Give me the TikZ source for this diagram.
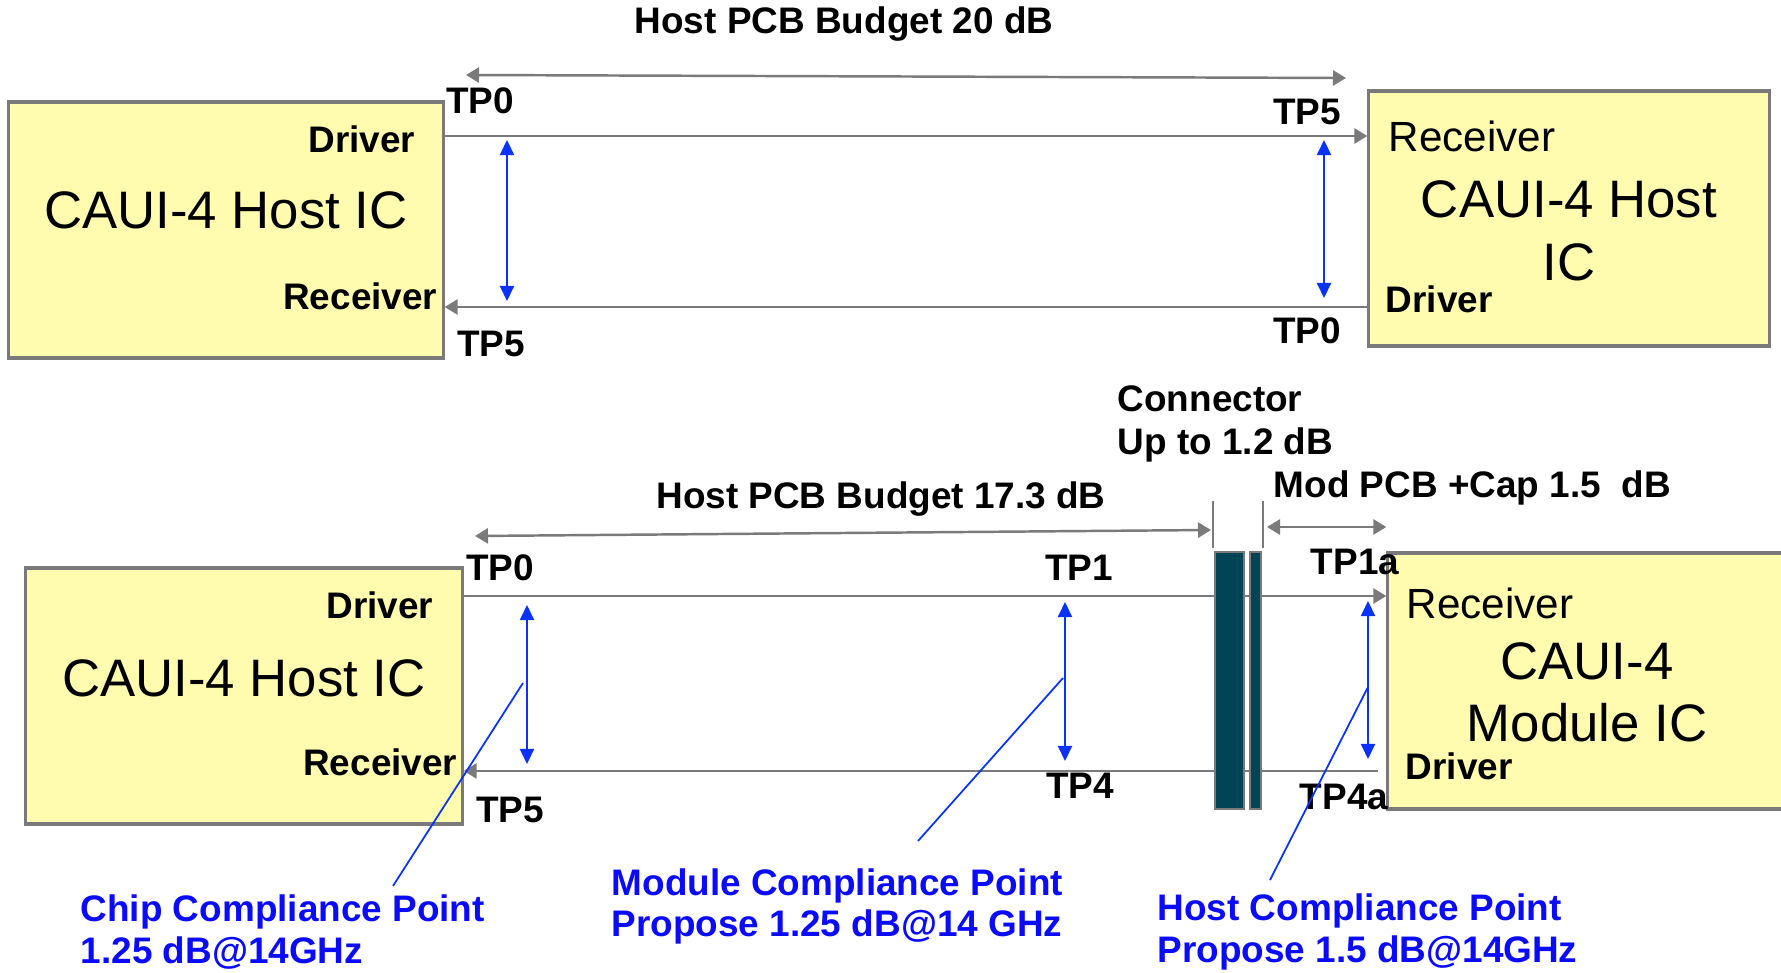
\documentclass[tikz,border=0pt]{standalone}
\usepackage{fontspec}
\setmainfont{Liberation Sans}
\usetikzlibrary{arrows.meta,positioning,calc}
\definecolor{icfill}{RGB}{255,252,175}
\definecolor{wiregray}{RGB}{122,122,122}
\definecolor{probe}{RGB}{10,50,255}
\definecolor{probetxt}{RGB}{10,10,255}
\definecolor{connC}{RGB}{0,68,85}

\tikzset{
  icbox/.style={draw=wiregray,line width=0.9pt,fill=icfill,inner sep=0pt},
  connbar/.style={draw=wiregray,line width=0.7pt,fill=connC,inner sep=0pt,minimum height=2.57cm},
  wire/.style={wiregray,line width=0.75pt},
  dimline/.style={wiregray,line width=0.7pt,{Triangle[length=3.7pt,width=4.3pt]}-{Triangle[length=3.7pt,width=4.3pt]}},
  tick/.style={wiregray,line width=0.5pt},
  probearrow/.style={probe,line width=0.65pt,{Triangle[length=4.3pt,width=4pt]}-{Triangle[length=4.3pt,width=4pt]}},
  callout/.style={probe,line width=0.5pt},
  lbl/.style={inner sep=0pt,font=\fontsize{10.5}{12.2}\selectfont\bfseries},
  tp/.style={lbl},
  bigtxt/.style={inner sep=0pt,font=\fontsize{15}{17.8}\selectfont},
  rxtxt/.style={inner sep=0pt,font=\fontsize{12}{14}\selectfont},
  calltxt/.style={inner sep=0pt,anchor=west,align=left,text=probetxt,font=\fontsize{10.5}{11.8}\selectfont\bfseries},
}

\begin{document}
\begin{tikzpicture}[x=0.01cm,y=-0.01cm,>={Triangle[length=3.7pt,width=4.3pt]}]
\useasboundingbox (0,0) rectangle (1781,973);
% ---------------- TOP: host IC to host IC ----------------
\node[icbox,minimum width=4.34cm,minimum height=2.56cm] (hostA) at (226,230) {};
\node[icbox,minimum width=4.00cm,minimum height=2.55cm] (hostB) at (1569,218.5) {};
\node[bigtxt] (hostAname) at (226,210) {CAUI-4 Host IC};
\node[bigtxt,align=center] (hostBname) at (1569,231) {CAUI-4 Host\\IC};
\node[lbl,anchor=east] (hostAdrv) at (416,139) {Driver};
\node[lbl,anchor=east] (hostArx) at (438,296) {Receiver};
\node[rxtxt,anchor=west] (hostBrx) at (1388,136) {Receiver};
\node[lbl,anchor=west] (hostBdrv) at (1385,299) {Driver};
% lanes
\coordinate (railA) at (0,136);
\coordinate (railB) at (0,307);
\draw[wire,->] (hostA.east |- railA) -- (hostB.west |- railA);
\draw[wire,->] (hostB.west |- railB) -- (hostA.east |- railB);
% test points
\node[tp] (tpA0) at (480,101) {TP0};
\node[tp] (tpA5) at (1307,112) {TP5};
\node[tp] (tpA5b) at (491,344) {TP5};
\node[tp] (tpA0b) at (1307,331) {TP0};
\coordinate (pA1t) at (507,140);
\coordinate (pA1b) at (507,301);
\coordinate (pA2t) at (1324,140);
\coordinate (pA2b) at (1324,298);
\draw[probearrow] (pA1t) -- (pA1b);
\draw[probearrow] (pA2t) -- (pA2b);
% budget
\coordinate (budA1) at (466,75);
\coordinate (budA2) at (1346,78);
\draw[dimline] (budA1) -- (budA2);
\node[lbl] (budAtxt) at (844,24) {Host PCB Budget 20 dB};

% ---------------- BOTTOM: host IC to module IC ----------------
\node[icbox,minimum width=4.36cm,minimum height=2.56cm] (hostC) at (244,696) {};
\node[icbox,minimum width=4.12cm,minimum height=2.56cm] (modD) at (1594,681) {};
\node[bigtxt] (hostCname) at (244,678) {CAUI-4 Host IC};
\node[bigtxt,align=center] (modDname) at (1587,692.5) {CAUI-4\\Module IC};
\node[lbl,anchor=east] (hostCdrv) at (434,605) {Driver};
\node[lbl,anchor=east] (hostCrx) at (458,762) {Receiver};
\node[rxtxt,anchor=west] (modDrx) at (1406,603) {Receiver};
\node[lbl,anchor=west] (modDdrv) at (1405,766) {Driver};
% lanes
\coordinate (railC) at (0,596);
\coordinate (railD) at (1378,771);
\draw[wire,->] (hostC.east |- railC) -- (modD.west |- railC);
\draw[wire,->] (railD) -- (hostC.east |- railD);
% connector
\node[connbar,minimum width=0.29cm] (barA) at (1229.5,680.5) {};
\node[connbar,minimum width=0.11cm] (barB) at (1255.5,680.5) {};
\draw[tick] (barA.north west) ++(-1,-3) -- ++(0,-47);
\draw[tick] (barB.north east) ++(1,-3) -- ++(0,-47);
\node[lbl,anchor=west,align=left] (conntxt) at (1117,423.5) {Connector\\Up to 1.2 dB};
% test points
\node[tp] (tpC0) at (500,568) {TP0};
\node[tp] (tpC5) at (510,810) {TP5};
\node[tp] (tpC1) at (1079,568) {TP1};
\node[tp] (tpC4) at (1080,786) {TP4};
\node[tp] (tpC1a) at (1355,562) {TP1a};
\node[tp] (tpC4a) at (1344,797) {TP4a};
\coordinate (pC1t) at (527,605);
\coordinate (pC1b) at (527,764);
\coordinate (pC2t) at (1065,602);
\coordinate (pC2b) at (1065,761);
\coordinate (pC3t) at (1368,601);
\coordinate (pC3b) at (1368,759);
\draw[probearrow] (pC1t) -- (pC1b);
\draw[probearrow] (pC2t) -- (pC2b);
\draw[probearrow] (pC3t) -- (pC3b);
% budgets
\coordinate (budC1) at (475,536);
\coordinate (budC2) at (1211,530);
\draw[dimline] (budC1) -- (budC2);
\node[lbl] (budCtxt) at (881,499) {Host PCB Budget 17.3 dB};
\coordinate (budD1) at (1267,527);
\draw[dimline] (budD1) -- (modD.west |- budD1);
\node[lbl,anchor=west] (budDtxt) at (1273,488) {Mod PCB +Cap 1.5~ dB};
% compliance points
\node[calltxt] (chipTxt) at (80,932) {Chip Compliance Point\\1.25 dB@14GHz};
\node[calltxt] (modTxt) at (611,906.5) {Module Compliance Point\\Propose 1.25 dB@14 GHz};
\node[calltxt] (hostTxt) at (1157,932) {Host Compliance Point\\Propose 1.5 dB@14GHz};
\coordinate (chipA) at (523,683);
\coordinate (chipB) at (393,886);
\coordinate (modA) at (1063,678);
\coordinate (modB) at (918,841);
\coordinate (hostA1) at (1368,687);
\coordinate (hostB1) at (1270,880);
\draw[callout] (chipA) -- (chipB);
\draw[callout] (modA) -- (modB);
\draw[callout] (hostA1) -- (hostB1);
\end{tikzpicture}
\end{document}
